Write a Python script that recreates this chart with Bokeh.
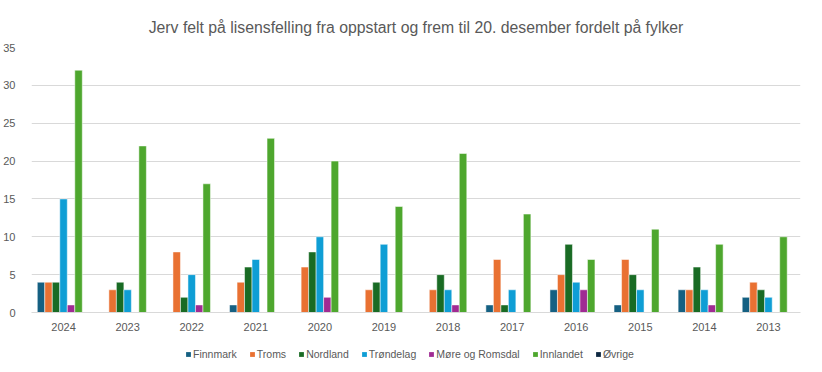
from bokeh.plotting import figure
from bokeh.layouts import column
from bokeh.models import FactorRange, Range1d, Legend, LegendItem, ColumnDataSource, SingleIntervalTicker, Title
from bokeh.transform import dodge
from bokeh.embed import file_html
from bokeh.resources import INLINE

years = ["2024", "2023", "2022", "2021", "2020", "2019", "2018", "2017", "2016", "2015", "2014", "2013"]
series_names = ["Finnmark", "Troms", "Nordland", "Trøndelag", "Møre og Romsdal", "Innlandet", "Øvrige"]
finnmark = [4, 0, 0, 1, 0, 0, 0, 1, 3, 1, 3, 2]
troms = [4, 3, 8, 4, 6, 3, 3, 7, 5, 7, 3, 4]
nordland = [4, 4, 2, 6, 8, 4, 5, 1, 9, 5, 6, 3]
trondelag = [15, 3, 5, 7, 10, 9, 3, 3, 4, 3, 3, 2]
more_romsdal = [1, 0, 1, 0, 2, 0, 1, 0, 3, 0, 1, 0]
innlandet = [32, 22, 17, 23, 20, 14, 21, 13, 7, 11, 9, 10]
ovrige = [0, 0, 0, 0, 0, 0, 0, 0, 0, 0, 0, 0]
colors = ["#156082", "#E97132", "#196B24", "#0F9ED5", "#A02B93", "#4EA72E", "#0E2841"]

FONT = "Liberation Sans"
GRAY = "#595959"

source = ColumnDataSource(dict(year=years, s0=finnmark, s1=troms, s2=nordland, s3=trondelag,
                               s4=more_romsdal, s5=innlandet, s6=ovrige))

p = figure(x_range=FactorRange(*years, range_padding=0), y_range=Range1d(0, 35),
           width=806, height=334, output_backend="svg", toolbar_location=None,
           min_border_left=23, min_border_right=6, min_border_top=47, min_border_bottom=22)
p.title = Title(text="Jerv felt på lisensfelling fra oppstart og frem til 20. desember fordelt på fylker",
                align="center", text_font=FONT, text_font_size="15.8px", text_color=GRAY,
                text_font_style="normal", standoff=23)

bw = 0.117
for i, name in enumerate(series_names):
    p.vbar(x=dodge("year", (i - 3) * bw, range=p.x_range), top="s%d" % i, width=bw,
           source=source, fill_color=colors[i], line_color="white", line_width=0.5)

p.yaxis.ticker = SingleIntervalTicker(interval=5)
p.yaxis.axis_line_color = None
p.yaxis.major_tick_line_color = None
p.yaxis.minor_tick_line_color = None
p.yaxis.major_label_text_font = FONT
p.yaxis.major_label_text_font_size = "11px"
p.yaxis.major_label_text_color = GRAY
p.yaxis.major_label_standoff = 10

p.xaxis.axis_line_color = "#d9d9d9"
p.xaxis.major_tick_line_color = None
p.xaxis.minor_tick_line_color = None
p.xaxis.major_label_text_font = FONT
p.xaxis.major_label_text_font_size = "11px"
p.xaxis.major_label_text_color = GRAY
p.xaxis.major_label_standoff = 4

p.xgrid.grid_line_color = None
p.ygrid.grid_line_color = "#d9d9d9"
p.outline_line_color = None

# legend strip
lf = figure(width=806, height=30, output_backend="svg", toolbar_location=None,
            x_range=Range1d(0, 1), y_range=Range1d(0, 1),
            min_border_left=0, min_border_right=0, min_border_top=0, min_border_bottom=0)
lf.axis.visible = False
lf.grid.grid_line_color = None
lf.outline_line_color = None
items = []
for i, name in enumerate(series_names):
    r = lf.vbar(x=[-10], top=[0], bottom=[0], width=0.01, fill_color=colors[i],
                line_color=None)
    items.append(LegendItem(label=name, renderers=[r]))
legend = Legend(items=items, orientation="horizontal", location=(154, 4),
                label_text_font=FONT, label_text_font_size="10.5px", label_text_color=GRAY,
                glyph_width=6, glyph_height=6, label_standoff=2, spacing=12,
                label_height=12, label_width=10, padding=0, margin=0,
                border_line_color=None, background_fill_alpha=0)
lf.add_layout(legend, "center")

layout = column(p, lf, spacing=0)
open("out.html", "w").write(file_html(layout, INLINE))
